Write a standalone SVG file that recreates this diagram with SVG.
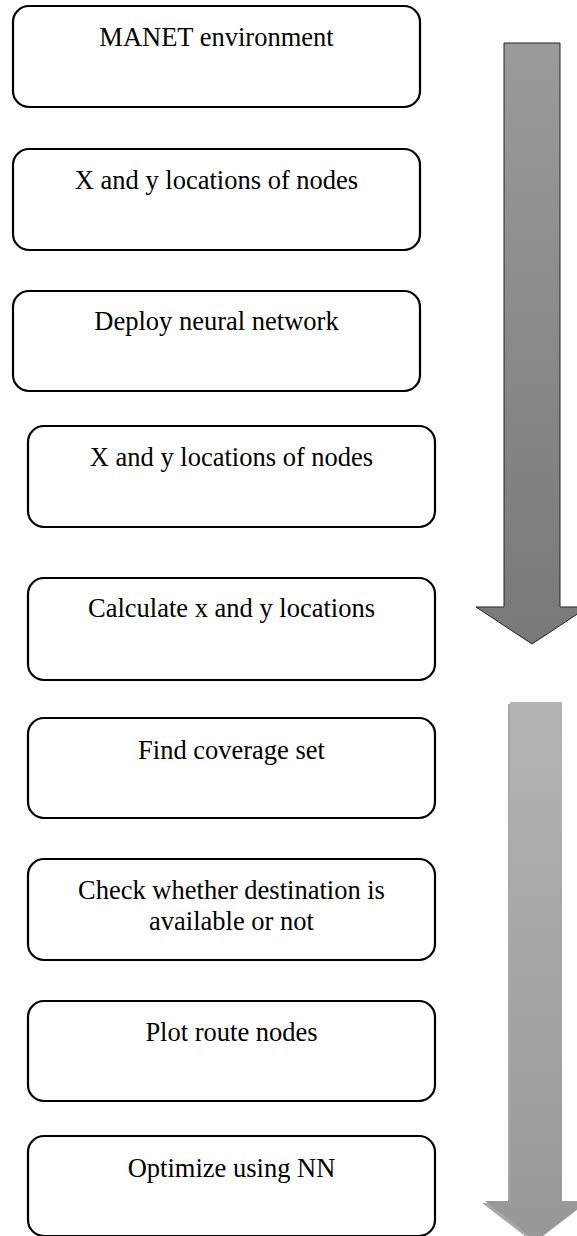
<svg xmlns="http://www.w3.org/2000/svg" width="577" height="1236" viewBox="0 0 577 1236">
<style>
.box{fill:#fff;stroke:#000;stroke-width:2.2}
.t{font-family:"Liberation Serif","Times New Roman",serif;font-size:26.5px;fill:#000;text-anchor:middle}
</style>
<defs>
<linearGradient id="g1" x1="0" y1="0" x2="0" y2="1">
<stop offset="0" stop-color="#9b9b9b"/>
<stop offset="1" stop-color="#787878"/>
</linearGradient>
<linearGradient id="g2" x1="0" y1="0" x2="0" y2="1">
<stop offset="0" stop-color="#b4b4b4"/>
<stop offset="1" stop-color="#979797"/>
</linearGradient>
</defs>
<rect width="577" height="1236" fill="#fff"/>
<g id="connectors">
<path d="M504,43 H560 V607 H588 L532,644 L476,607 H504 Z" fill="url(#g1)" stroke="#222" stroke-width="1"/>
<path d="M508,704 H560 V1203 H586 L534,1243 L482,1203 H508 Z" fill="#6e6e6e" opacity="0.6"/>
<path d="M510,702 H562 V1201 H587 L536,1241 L485,1201 H510 Z" fill="url(#g2)"/>
</g>
<g id="n1"><rect class="box" x="13" y="6" width="407" height="101" rx="16"/><text class="t" x="216.5" y="46">MANET environment</text></g>
<g id="n2"><rect class="box" x="13" y="149" width="407" height="101" rx="16"/><text class="t" x="216.5" y="189">X and y locations of nodes</text></g>
<g id="n3"><rect class="box" x="13" y="291" width="407" height="100" rx="16"/><text class="t" x="216.5" y="330">Deploy neural network</text></g>
<g id="n4"><rect class="box" x="28" y="426" width="407" height="101" rx="16"/><text class="t" x="231.5" y="466">X and y locations of nodes</text></g>
<g id="n5"><rect class="box" x="28" y="578" width="407" height="102" rx="16"/><text class="t" x="231.5" y="617">Calculate x and y locations</text></g>
<g id="n6"><rect class="box" x="28" y="718" width="407" height="100" rx="16"/><text class="t" x="231.5" y="759">Find coverage set</text></g>
<g id="n7"><rect class="box" x="28" y="859" width="407" height="101" rx="16"/><text class="t" x="231.5" y="899">Check whether destination is</text><text class="t" x="231.5" y="930">available or not</text></g>
<g id="n8"><rect class="box" x="28" y="1001" width="407" height="100" rx="16"/><text class="t" x="231.5" y="1041">Plot route nodes</text></g>
<g id="n9"><rect class="box" x="28" y="1136" width="407" height="100" rx="16"/><text class="t" x="231.5" y="1177">Optimize using NN</text></g>
</svg>
